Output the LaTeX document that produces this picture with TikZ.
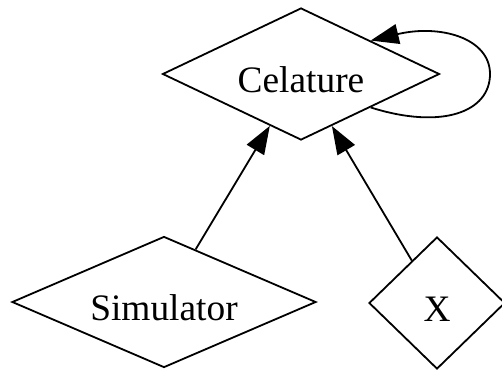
\documentclass[tikz,border=0pt]{standalone}
\usepackage{fontspec}
\setmainfont{Liberation Serif}
\usetikzlibrary{shapes.geometric,arrows.meta}
\tikzset{
  dia/.style={draw, diamond, line width=1.8bp, inner sep=0pt, text height=36bp, text depth=0pt,
    font=\fontsize{37.5}{44}\selectfont},
  edge/.style={draw, line width=1.8bp, -{Triangle[length=28bp,width=20bp]}}
}
\begin{document}
\begin{tikzpicture}[x=1bp,y=-1bp]
\useasboundingbox (0,0) rectangle (502,369);
\node[dia, shape aspect=2.1, minimum width=277bp, minimum height=132bp] (C) at (301,74) {Celature};
\node[dia, shape aspect=2.32, minimum width=304bp, minimum height=131bp] (S) at (164,302) {Simulator};
\node[dia, shape aspect=1.03, minimum width=136bp, minimum height=132bp] (X) at (437,303) {X};
\draw[edge] (S) -- (C);
\draw[edge] (X) -- (C);
\draw[edge] (C.south east) .. controls (442,130) and (490,112) .. (490,74) .. controls (490,38) and (440,24) .. (C.north east);
\end{tikzpicture}
\end{document}
